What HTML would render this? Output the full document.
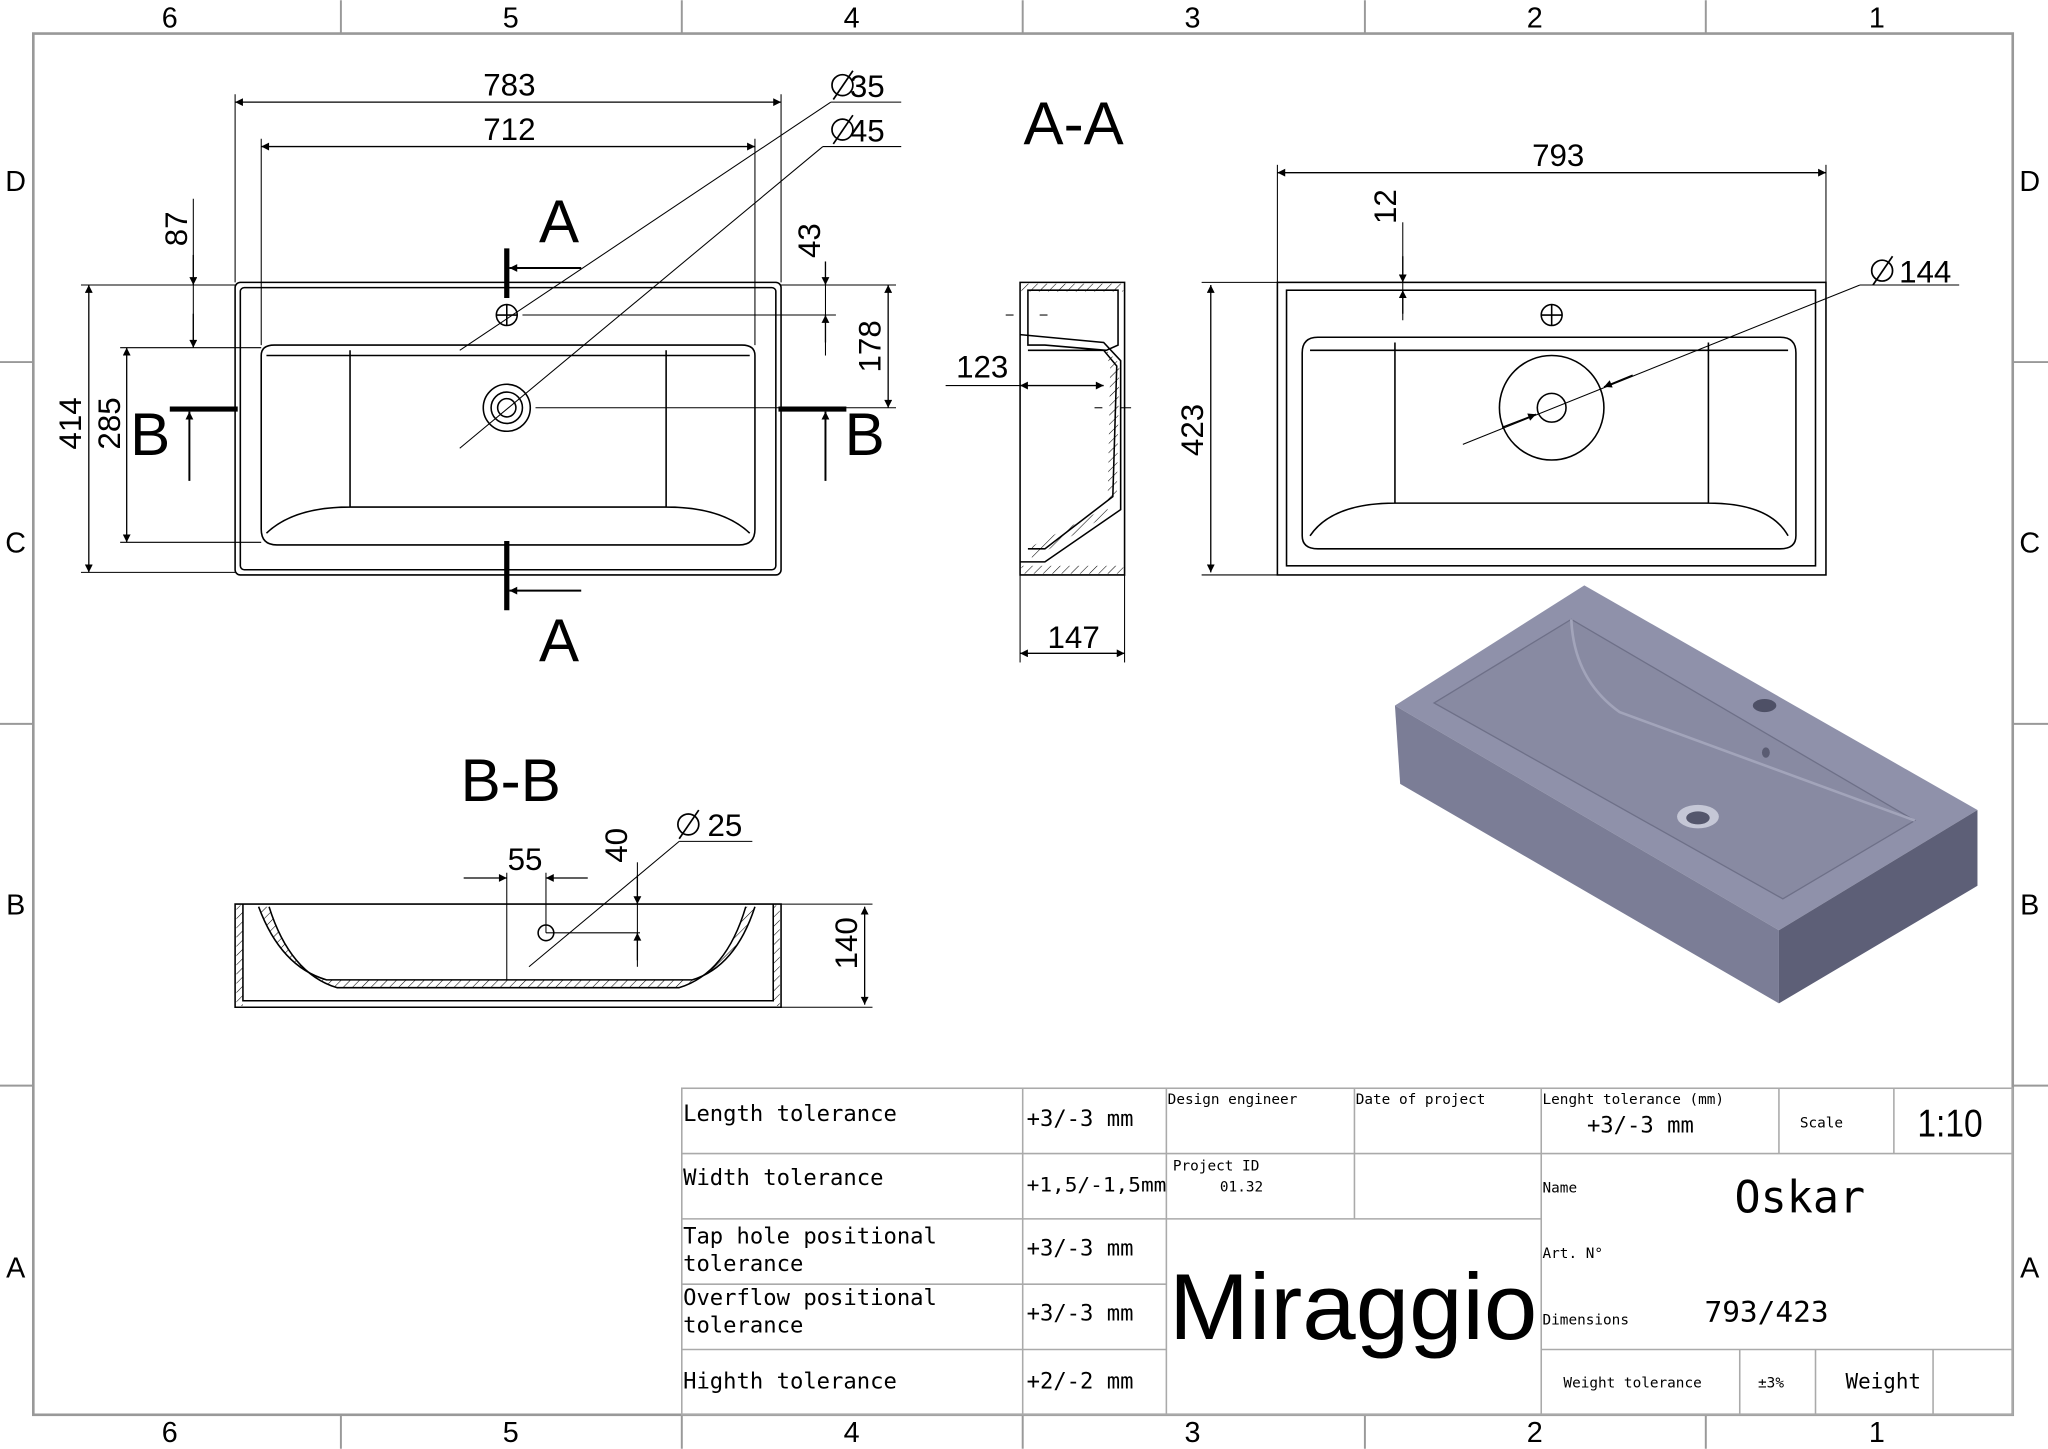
<!DOCTYPE html>
<html><head><meta charset="utf-8"><style>
html,body{margin:0;padding:0;background:#fff}
svg{display:block}
text{font-family:"Liberation Sans",sans-serif;fill:#000}
.t{font-family:"DejaVu Sans Mono","Liberation Mono",monospace;}
</style></head><body>
<svg width="2048" height="1449" viewBox="0 0 1568 1109" xmlns="http://www.w3.org/2000/svg">
<defs>
<marker id="ar" viewBox="0 0 10 10" refX="10" refY="5" markerWidth="10" markerHeight="6" orient="auto-start-reverse" markerUnits="userSpaceOnUse"><path d="M0,0 L10,5 L0,10z" fill="#000"/></marker>
<pattern id="h" width="5" height="5" patternUnits="userSpaceOnUse" patternTransform="rotate(45)"><line x1="0" y1="0" x2="0" y2="5" stroke="#000" stroke-width="0.8"/></pattern>
</defs>
<rect x="0" y="0" width="1568" height="1109" fill="#fff"/>
<rect x="25.5" y="25.5" width="1515.5" height="1057.5" fill="none" stroke="#999" stroke-width="2"/>
<g stroke="#999" stroke-width="1.5">
<line x1="261" y1="0" x2="261" y2="25"/><line x1="522" y1="0" x2="522" y2="25"/><line x1="783" y1="0" x2="783" y2="25"/><line x1="1045" y1="0" x2="1045" y2="25"/><line x1="1306" y1="0" x2="1306" y2="25"/>
<line x1="261" y1="1083" x2="261" y2="1109"/><line x1="522" y1="1083" x2="522" y2="1109"/><line x1="783" y1="1083" x2="783" y2="1109"/><line x1="1045" y1="1083" x2="1045" y2="1109"/><line x1="1306" y1="1083" x2="1306" y2="1109"/>
<line x1="0" y1="277" x2="25" y2="277"/><line x1="0" y1="554" x2="25" y2="554"/><line x1="0" y1="831" x2="25" y2="831"/>
<line x1="1541" y1="277" x2="1568" y2="277"/><line x1="1541" y1="554" x2="1568" y2="554"/><line x1="1541" y1="831" x2="1568" y2="831"/>
</g>
<g font-size="22" text-anchor="middle">
<text x="130" y="21">6</text><text x="391" y="21">5</text><text x="652" y="21">4</text><text x="913" y="21">3</text><text x="1175" y="21">2</text><text x="1437" y="21">1</text>
<text x="130" y="1104">6</text><text x="391" y="1104">5</text><text x="652" y="1104">4</text><text x="913" y="1104">3</text><text x="1175" y="1104">2</text><text x="1437" y="1104">1</text>
<text x="12" y="146">D</text><text x="12" y="423">C</text><text x="12" y="700">B</text><text x="12" y="978">A</text>
<text x="1554" y="146">D</text><text x="1554" y="423">C</text><text x="1554" y="700">B</text><text x="1554" y="978">A</text>
</g>

<!-- TOP VIEW -->
<g fill="none" stroke="#000" stroke-width="1.2">
<rect x="180" y="216" width="418" height="224" rx="4"/>
<rect x="184" y="220" width="410" height="216" rx="3"/>
<path d="M200,272 Q200,264 210,264 L568,264 Q578,264 578,272 L578,405 Q578,417 566,417 L212,417 Q200,417 200,405 Z"/>
<path d="M204,272 L574,272 M268,268 L268,388 M510,268 L510,388 M204,408 Q225,388 268,388 L510,388 Q553,388 574,408"/>
<circle cx="388" cy="241" r="8"/><line x1="380" y1="241" x2="396" y2="241"/><line x1="388" y1="233" x2="388" y2="249"/>
<circle cx="388" cy="312" r="18"/><circle cx="388" cy="312" r="12"/><circle cx="388" cy="312" r="7"/>
</g>
<g stroke="#000" stroke-width="1" fill="none" marker-start="url(#ar)" marker-end="url(#ar)">
<line x1="180" y1="78" x2="598" y2="78"/>
<line x1="200" y1="112" x2="578" y2="112"/>
<line x1="68" y1="218" x2="68" y2="438"/>
<line x1="97" y1="266" x2="97" y2="415"/>
<line x1="680" y1="218" x2="680" y2="312"/>
</g>
<g stroke="#000" stroke-width="0.8" fill="none">
<line x1="180" y1="72" x2="180" y2="216"/><line x1="598" y1="72" x2="598" y2="216"/>
<line x1="200" y1="106" x2="200" y2="264"/><line x1="578" y1="106" x2="578" y2="264"/>
<line x1="62" y1="218" x2="180" y2="218"/><line x1="62" y1="438" x2="180" y2="438"/>
<line x1="92" y1="266" x2="200" y2="266"/><line x1="92" y1="415" x2="200" y2="415"/>
<line x1="400" y1="241" x2="640" y2="241"/><line x1="598" y1="218" x2="686" y2="218"/><line x1="410" y1="312" x2="686" y2="312"/>
<line x1="148" y1="152" x2="148" y2="266"/><line x1="632" y1="200" x2="632" y2="272"/>
<line x1="352" y1="268" x2="636" y2="78"/><line x1="636" y1="78" x2="690" y2="78"/>
<line x1="352" y1="343" x2="630" y2="112"/><line x1="630" y1="112" x2="690" y2="112"/>
</g>
<g stroke="#000" stroke-width="1" marker-end="url(#ar)"><line x1="148" y1="195" x2="148" y2="218"/><line x1="148" y1="240" x2="148" y2="266"/><line x1="632" y1="200" x2="632" y2="218"/><line x1="632" y1="262" x2="632" y2="241"/></g>
<g stroke="#000" stroke-width="4"><line x1="388" y1="190" x2="388" y2="228"/><line x1="388" y1="414" x2="388" y2="467"/><line x1="130" y1="313" x2="182" y2="313"/><line x1="596" y1="313" x2="648" y2="313"/></g>
<g stroke="#000" stroke-width="1.5" marker-end="url(#ar)"><line x1="445" y1="205" x2="390" y2="205"/><line x1="445" y1="452" x2="390" y2="452"/><line x1="145" y1="368" x2="145" y2="315"/><line x1="632" y1="368" x2="632" y2="315"/></g>
<g font-size="24" text-anchor="middle">
<text x="390" y="73">783</text><text x="390" y="107">712</text>
<text x="664" y="74">35</text><text x="664" y="108">45</text>
<text transform="translate(143,175) rotate(-90)">87</text>
<text transform="translate(628,184) rotate(-90)">43</text>
<text transform="translate(674,265) rotate(-90)">178</text>
<text transform="translate(62,324) rotate(-90)">414</text>
<text transform="translate(92,324) rotate(-90)">285</text>
</g>
<g fill="none" stroke="#000" stroke-width="1.3"><circle cx="645" cy="65" r="8"/><line x1="638" y1="76" x2="653" y2="54"/><circle cx="645" cy="99" r="8"/><line x1="638" y1="110" x2="653" y2="88"/><circle cx="1441" cy="207" r="8"/><line x1="1434" y1="218" x2="1449" y2="196"/><circle cx="527" cy="631" r="8"/><line x1="520" y1="642" x2="535" y2="620"/></g>
<g font-size="46" text-anchor="middle"><text x="428" y="185">A</text><text x="428" y="506">A</text><text x="115" y="348">B</text><text x="662" y="348">B</text><text x="822" y="110">A-A</text><text x="391" y="613">B-B</text></g>

<!-- SECTION A-A -->
<g fill="none" stroke="#000" stroke-width="1.2">
<path d="M781,216 L861,216 L861,440 L781,440 Z"/>
<path d="M787,222 L856,222 L856,264 L847,268 L800,264 L787,264 Z"/>
<path d="M787,268 L845,268 L855,280 L852,380 L800,420 L787,420"/>
<path d="M781,256 L845,262 L858,276 L858,390 L800,430 L781,430"/>
</g>
<rect x="782" y="217" width="78" height="6" fill="url(#h)"/>
<rect x="782" y="433" width="78" height="6" fill="url(#h)"/>
<path d="M845,266 L857,278 L855,382 L848,386 L850,280 Z" fill="url(#h)"/>
<path d="M790,418 L848,388 L848,394 L790,428 Z" fill="url(#h)"/>
<g stroke="#000" stroke-width="1" marker-start="url(#ar)" marker-end="url(#ar)"><line x1="781" y1="295" x2="845" y2="295"/><line x1="781" y1="500" x2="861" y2="500"/></g>
<g stroke="#000" stroke-width="0.8"><line x1="724" y1="295" x2="781" y2="295"/><line x1="781" y1="440" x2="781" y2="507"/><line x1="861" y1="440" x2="861" y2="507"/><line x1="770" y1="241" x2="776" y2="241"/><line x1="796" y1="241" x2="802" y2="241"/><line x1="838" y1="312" x2="844" y2="312"/><line x1="858" y1="312" x2="866" y2="312"/></g>
<g font-size="24" text-anchor="middle"><text x="752" y="289">123</text><text x="822" y="496">147</text></g>

<!-- RIGHT VIEW -->
<g fill="none" stroke="#000" stroke-width="1.2">
<rect x="978" y="216" width="420" height="224"/>
<rect x="985" y="222" width="405" height="211"/>
<path d="M997,270 Q997,258 1009,258 L1363,258 Q1375,258 1375,270 L1375,410 Q1375,420 1363,420 L1009,420 Q997,420 997,410 Z"/>
<path d="M1003,268 L1369,268 M1068,262 L1068,385 M1308,262 L1308,385 M1003,410 Q1020,385 1068,385 L1308,385 Q1355,385 1369,410"/>
<circle cx="1188" cy="241" r="8"/><line x1="1180" y1="241" x2="1196" y2="241"/><line x1="1188" y1="233" x2="1188" y2="249"/>
<circle cx="1188" cy="312" r="40"/><circle cx="1188" cy="312" r="11"/>
</g>
<g stroke="#000" stroke-width="1" marker-start="url(#ar)" marker-end="url(#ar)"><line x1="978" y1="132" x2="1398" y2="132"/><line x1="927" y1="218" x2="927" y2="438"/></g>
<g stroke="#000" stroke-width="0.8"><line x1="978" y1="126" x2="978" y2="216"/><line x1="1398" y1="126" x2="1398" y2="216"/><line x1="920" y1="216" x2="978" y2="216"/><line x1="920" y1="440" x2="978" y2="440"/><line x1="1120" y1="340" x2="1424" y2="218"/><line x1="1424" y1="218" x2="1500" y2="218"/><line x1="1074" y1="170" x2="1074" y2="245"/></g>
<g stroke="#000" stroke-width="1" marker-end="url(#ar)"><line x1="1074" y1="196" x2="1074" y2="216"/><line x1="1074" y1="240" x2="1074" y2="222"/><line x1="1150" y1="327" x2="1176" y2="317"/><line x1="1250" y1="287" x2="1228" y2="296"/></g>
<g font-size="24" text-anchor="middle"><text x="1193" y="127">793</text><text x="1474" y="216">144</text><text transform="translate(1069,158) rotate(-90)">12</text><text transform="translate(921,329) rotate(-90)">423</text></g>

<!-- 3D -->
<polygon points="1068,540 1213,448 1514,620 1362,712" fill="#8f91aa"/>
<polygon points="1068,540 1362,712 1362,768 1072,600" fill="#7b7d96"/>
<polygon points="1362,712 1514,620 1514,678 1362,768" fill="#5d5f77"/>
<polygon points="1098,538 1203,474 1466,628 1365,688" fill="#888aa2" stroke="#6e7088" stroke-width="1"/>
<path d="M1203,474 Q1205,520 1240,545 L1466,628" fill="none" stroke="#a2a4ba" stroke-width="2"/>
<ellipse cx="1300" cy="625" rx="16" ry="9" fill="#c5c7d6"/><ellipse cx="1300" cy="626" rx="9" ry="5" fill="#54566c"/>
<ellipse cx="1351" cy="540" rx="9" ry="5" fill="#4e5066"/><ellipse cx="1352" cy="576" rx="3" ry="4" fill="#5a5c72"/>

<!-- B-B -->
<g fill="none" stroke="#000" stroke-width="1.2">
<path d="M180,692 L598,692 L598,771 L180,771 Z"/>
<path d="M186,692 L186,766 L592,766 L592,692"/>
<path d="M198,694 Q215,740 250,750 L530,750 Q563,740 578,694"/>
<path d="M206,694 Q222,745 258,756 L520,756 Q556,745 571,694"/>
<circle cx="418" cy="714" r="6"/>
</g>
<path d="M198,694 Q215,740 250,750 L530,750 Q563,740 578,694 L571,694 Q556,745 520,756 L258,756 Q222,745 206,694Z" fill="url(#h)"/>
<rect x="181" y="693" width="5" height="77" fill="url(#h)"/><rect x="592" y="693" width="5" height="77" fill="url(#h)"/>
<g stroke="#000" stroke-width="1" marker-start="url(#ar)" marker-end="url(#ar)"><line x1="662" y1="694" x2="662" y2="769"/></g>
<g stroke="#000" stroke-width="0.8"><line x1="598" y1="692" x2="668" y2="692"/><line x1="598" y1="771" x2="668" y2="771"/><line x1="388" y1="668" x2="388" y2="750"/><line x1="418" y1="668" x2="418" y2="714"/><line x1="418" y1="714" x2="490" y2="714"/><line x1="488" y1="660" x2="488" y2="740"/><line x1="405" y1="740" x2="520" y2="644"/><line x1="520" y1="644" x2="576" y2="644"/></g>
<g stroke="#000" stroke-width="1" marker-end="url(#ar)"><line x1="355" y1="672" x2="388" y2="672"/><line x1="450" y1="672" x2="418" y2="672"/><line x1="488" y1="670" x2="488" y2="692"/><line x1="488" y1="735" x2="488" y2="714"/></g>
<g font-size="24" text-anchor="middle"><text x="402" y="666">55</text><text x="555" y="640">25</text><text transform="translate(480,647) rotate(-90)">40</text><text transform="translate(656,722) rotate(-90)">140</text></g>

<!-- title block -->
<g stroke="#aaa" stroke-width="1.2" fill="none">
<rect x="522" y="833" width="1019" height="250"/>
<line x1="522" y1="883" x2="893" y2="883"/><line x1="522" y1="933" x2="1180" y2="933"/><line x1="522" y1="983" x2="893" y2="983"/><line x1="522" y1="1033" x2="893" y2="1033"/>
<line x1="893" y1="883" x2="1180" y2="883"/>
<line x1="1180" y1="883" x2="1541" y2="883"/><line x1="1180" y1="1033" x2="1541" y2="1033"/>
<line x1="783" y1="833" x2="783" y2="1083"/><line x1="893" y1="833" x2="893" y2="1083"/><line x1="1037" y1="833" x2="1037" y2="933"/><line x1="1180" y1="833" x2="1180" y2="1083"/>
<line x1="1362" y1="833" x2="1362" y2="883"/><line x1="1450" y1="833" x2="1450" y2="883"/>
<line x1="1332" y1="1033" x2="1332" y2="1083"/><line x1="1390" y1="1033" x2="1390" y2="1083"/><line x1="1480" y1="1033" x2="1480" y2="1083"/>
</g>
<g class="t" font-size="17">
<text x="523" y="858" class="t">Length tolerance</text>
<text x="523" y="907" class="t">Width tolerance</text>
<text x="523" y="952" class="t">Tap hole positional</text><text x="523" y="973" class="t">tolerance</text>
<text x="523" y="999" class="t">Overflow positional</text><text x="523" y="1020" class="t">tolerance</text>
<text x="523" y="1063" class="t">Highth tolerance</text>
<text x="786" y="862" class="t">+3/-3 mm</text>
<text x="786" y="912" class="t" font-size="15" textLength="107" lengthAdjust="spacingAndGlyphs">+1,5/-1,5mm</text>
<text x="786" y="961" class="t">+3/-3 mm</text>
<text x="786" y="1011" class="t">+3/-3 mm</text>
<text x="786" y="1063" class="t">+2/-2 mm</text>
</g>
<g class="t" font-size="11">
<text x="894" y="845" class="t">Design engineer</text><text x="1038" y="845" class="t">Date of project</text>
<text x="898" y="896" class="t">Project ID</text><text x="934" y="912" class="t">01.32</text>
<text x="1181" y="845" class="t">Lenght tolerance (mm)</text>
<text x="1378" y="863" class="t">Scale</text>
<text x="1181" y="913" class="t">Name</text><text x="1181" y="963" class="t">Art. N°</text><text x="1181" y="1014" class="t">Dimensions</text>
<text x="1197" y="1062" class="t">Weight tolerance</text><text x="1346" y="1062" class="t">±3%</text>
</g>
<text x="1215" y="867" class="t" font-size="17">+3/-3 mm</text>
<text x="1413" y="1063" class="t" font-size="16">Weight</text>
<text x="1468" y="870" font-size="30" textLength="50" lengthAdjust="spacingAndGlyphs">1:10</text>
<text x="1328" y="928" class="t" font-size="34" textLength="100" lengthAdjust="spacingAndGlyphs">Oskar</text>
<text x="1305" y="1012" class="t" font-size="22" textLength="95" lengthAdjust="spacingAndGlyphs">793/423</text>
<text x="895" y="1025" font-size="72" textLength="282" lengthAdjust="spacingAndGlyphs">Miraggio</text>
</svg>
</body></html>
